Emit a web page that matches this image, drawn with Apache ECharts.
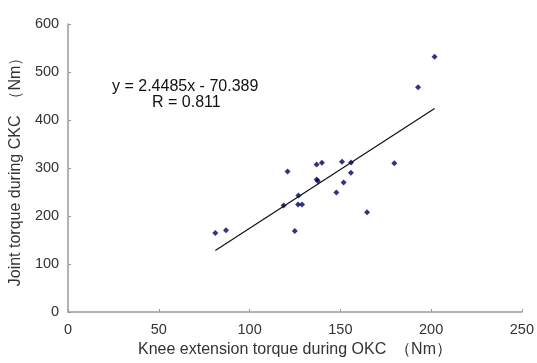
<!DOCTYPE html>
<html>
<head>
<meta charset="utf-8">
<script src="https://cdn.jsdelivr.net/npm/echarts@6/dist/echarts.min.js"></script>
<style>html,body{margin:0;padding:0;background:#fff}#c{width:537px;height:363px}</style>
</head>
<body>
<div id="c"></div>
<script>
const okcTorque = [81.1, 87.0, 118.7, 120.9, 124.9, 126.7, 126.9, 128.9, 136.9, 136.9, 137.6, 139.8, 147.8, 150.9, 151.8, 155.8, 155.9, 164.7, 179.7, 192.8, 201.9];
const ckcTorque = [164.8, 170.4, 221.9, 292.8, 169.0, 224.0, 242.7, 224.0, 307.4, 276.0, 273.0, 310.8, 249.0, 312.8, 270.0, 290.0, 311.5, 208.0, 310.0, 468.0, 531.8];
const slope = 2.4485;
const intercept = -70.389;
const equationText = 'y = 2.4485x - 70.389';
const rText = 'R = 0.811';
const xTicks = [0, 50, 100, 150, 200, 250];
const yTicks = [0, 100, 200, 300, 400, 500, 600];

const points = okcTorque.map((x, i) => [x, ckcTorque[i]]);
const xMin = Math.min(...okcTorque), xMax = Math.max(...okcTorque);
const fitLine = [[xMin, slope * xMin + intercept], [xMax, slope * xMax + intercept]];

const chart = echarts.init(document.getElementById('c'));
const axisColor = '#9a9a9a';
const font = 'Liberation Sans, Arial, sans-serif';
chart.setOption({
  animation: false,
  grid: { left: 66, right: 11, top: 24, bottom: 51 },
  xAxis: {
    type: 'value', min: xTicks[0], max: xTicks[xTicks.length - 1], interval: 50,
    name: 'Knee extension torque during OKC  （Nm）',
    nameLocation: 'middle', nameGap: 28,
    nameTextStyle: { fontFamily: font, fontSize: 16, color: '#333' },
    axisLine: { lineStyle: { color: axisColor, width: 1.5 } },
    axisTick: { inside: true, length: 3, lineStyle: { color: axisColor } },
    axisLabel: { fontFamily: font, fontSize: 14.5, color: '#333', margin: 10 },
    splitLine: { show: false }
  },
  yAxis: {
    type: 'value', min: yTicks[0], max: yTicks[yTicks.length - 1], interval: 100,
    name: 'Joint torque during CKC  （Nm）',
    nameLocation: 'middle', nameGap: 38,
    nameTextStyle: { fontFamily: font, fontSize: 16, color: '#333' },
    axisLine: { show: true, lineStyle: { color: axisColor, width: 1.5 } },
    axisTick: { show: true, inside: true, length: 3, lineStyle: { color: axisColor } },
    axisLabel: { fontFamily: font, fontSize: 14.5, color: '#333', margin: 9 },
    splitLine: { show: false }
  },
  series: [
    {
      type: 'scatter', data: points, symbol: 'diamond', symbolSize: 6,
      itemStyle: { color: '#000060' }
    },
    {
      type: 'line', data: fitLine, symbol: 'none',
      lineStyle: { color: '#111', width: 1.2 }
    }
  ],
  graphic: [
    { type: 'text', left: 112, top: 79, style: { text: equationText, fontFamily: font, fontSize: 16, fill: '#111' } },
    { type: 'text', left: 152, top: 95, style: { text: rText, fontFamily: font, fontSize: 16, fill: '#111' } }
  ]
});
</script>
</body>
</html>
